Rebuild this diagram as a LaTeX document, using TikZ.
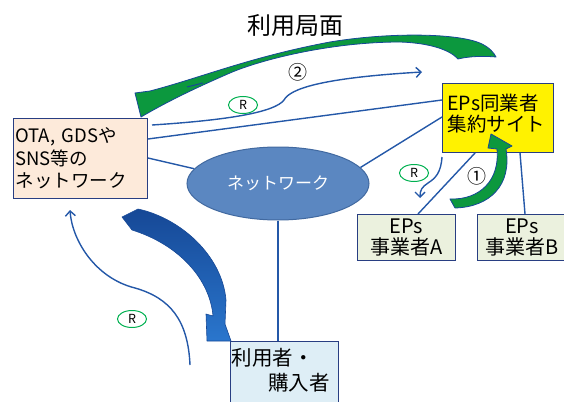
\documentclass[tikz,border=0pt]{standalone}
\usepackage{fontspec}
\newfontfamily\jp{Noto Sans CJK JP}
\usetikzlibrary{shapes.geometric,arrows.meta,calc}
\definecolor{bordc}{RGB}{40,62,130}
\definecolor{linec}{RGB}{36,88,168}
\definecolor{otafill}{RGB}{253,234,218}
\definecolor{epfill}{RGB}{235,241,222}
\definecolor{userfill}{RGB}{222,238,246}
\definecolor{netfill}{RGB}{91,135,193}
\definecolor{netbord}{RGB}{65,105,160}
\definecolor{sgreen}{RGB}{12,152,62}
\definecolor{rgreen}{RGB}{0,176,80}
\definecolor{bdark}{RGB}{22,72,150}
\definecolor{blight}{RGB}{42,118,205}
\begin{document}
\begin{tikzpicture}[x=1pt,y=-1pt,
  box/.style={draw=bordc, line width=1pt, inner sep=0pt},
  conn/.style={draw=linec, line width=1.4pt},
  carrow/.style={draw=linec, line width=1.4pt, -{Straight Barb[length=5pt,width=10pt]}},
  rmark/.style={ellipse, draw=rgreen, line width=1pt, minimum width=29pt, minimum height=17pt, inner sep=0pt, font=\jp\fontsize{12.5}{12.5}\selectfont},
  swoosh/.style={fill=sgreen, draw=bdark, line width=0.8pt, line join=round},
  numlabel/.style={font=\jp\fontsize{19}{19}\selectfont, inner sep=0pt}
]
\useasboundingbox (0,0) rectangle (564,401);

% title
\node[font=\jp\fontsize{24}{24}\selectfont, inner sep=0pt] (title) at (295,26) {利用局面};

% boxes
\node[box, fill=otafill, anchor=north west, minimum height=80pt, inner xsep=2pt, text width=130pt, align=left,
  font=\jp\fontsize{18.5}{22.5}\selectfont] (ota) at (13,118) {OTA, GDSや\\SNS等の\\ネットワーク};
\node[box, fill=yellow, anchor=north west, minimum height=69pt, inner xsep=5pt, text width=101pt, align=left,
  text depth=32pt, font=\jp\fontsize{19.5}{21.5}\selectfont] (eps) at (442,83) {EPs同業者\\集約サイト};
\node[ellipse, fill=netfill, draw=netbord, line width=1pt, minimum width=182pt, minimum height=73pt, inner sep=0pt,
  text=white, font=\jp\fontsize{17}{17}\selectfont] (net) at (278,183.5) {ネットワーク};
\node[box, fill=epfill, anchor=north west, minimum width=98pt, minimum height=46pt, align=center,
  font=\jp\fontsize{20}{21}\selectfont] (epa) at (357,214) {EPs\\事業者A};
\node[box, fill=epfill, anchor=north west, minimum width=89pt, minimum height=46pt, align=center,
  font=\jp\fontsize{20}{21}\selectfont] (epb) at (477,214) {EPs\\事業者B};
\node[box, fill=userfill, anchor=north west, minimum height=70pt, inner xsep=1pt, text width=106pt, align=left,
  text depth=40pt, font=\jp\fontsize{20.5}{25}\selectfont] (user) at (230,341) {利用者・\\\hspace*{1.8em}購入者};

% connectors
\draw[conn] ([yshift=-21pt]ota.north east) -- ([yshift=-17pt]eps.north west);
\draw[conn] ([yshift=-40pt]ota.north east) -- (net.170);
\draw[conn] (net.11) -- ([yshift=-34pt]eps.north west);
\draw[conn] (net.south) -- (net.south |- user.north);
\draw[conn] ([xshift=33pt]eps.south west) -- ([xshift=61pt]epa.north west);
\draw[conn] ([xshift=78pt]eps.south west) -- ([xshift=48pt]epb.north west);

% flow arrow 2
\coordinate (a2s) at (152,125);
\coordinate (a2e) at (422,72);
\draw[carrow] (a2s) .. controls (230,120) and (275,112) .. (284,100) .. controls (290,89) and (320,78) .. (a2e);
% left return arrow
\coordinate (lrs) at (190,365);
\coordinate (lre) at (70,210);
\draw[carrow] (lrs) .. controls (188,320) and (170,298) .. (135,288) .. controls (95,278) and (72,240) .. (lre);
% small arrow near EPs A
\coordinate (rrs) at (442,157);
\coordinate (rre) at (420,198);
\draw[carrow] (rrs) .. controls (441,172) and (436,178) .. (428,183) .. controls (422,187) and (420,190) .. (rre);

% R marks
\node[rmark] (r1) at (243,105) {R};
\node[rmark] (r2) at (414,173) {R};
\node[rmark] (r3) at (132,319) {R};

% number labels
\node[numlabel] (n2) at (298,72) {②};
\node[numlabel] (n1) at (477,176.5) {①};

% big green swoosh (top)
\path[swoosh] (135,93) -- (150,91) .. controls (200,78) and (250,57) .. (330,42)
  .. controls (390,32) and (460,33) .. (482,44) .. controls (490,48) and (494,53) .. (496,57)
  .. controls (485,56) and (470,56) .. (458,59) .. controls (450,50) and (430,43) .. (400,42)
  .. controls (330,42) and (260,60) .. (230,73) .. controls (200,86) and (170,100) .. (141,117) -- cycle;
\draw[bdark, line width=1pt] (187,87) -- (203,83);

% green arrow 1
\path[swoosh] (450,199) .. controls (480,200) and (500,180) .. (497,149) -- (488,148) -- (491,134) -- (512,146) -- (506,149)
  .. controls (512,185) and (490,207) .. (455,208) -- cycle;

% big blue curved arrow
\shade[top color=bdark, bottom color=blight, draw=bdark, line width=0.6pt, line join=round]
  (122,217) -- (138,209) .. controls (180,218) and (222,255) .. (226,300) -- (225,324) -- (231,341) -- (207,341)
  -- (206,314) -- (213,316) .. controls (210,280) and (180,245) .. (132,230) -- cycle;
\end{tikzpicture}
\end{document}
